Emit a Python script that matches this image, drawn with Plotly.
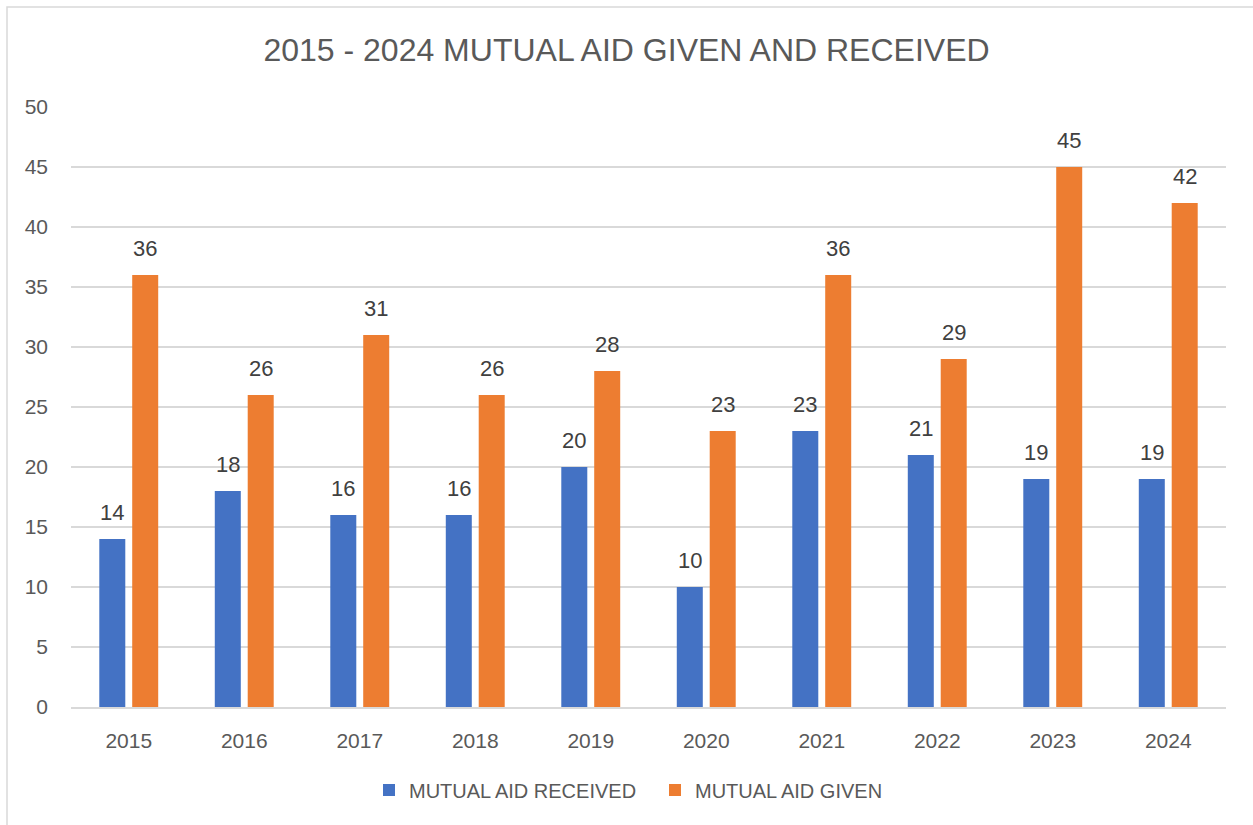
import plotly.graph_objects as go

years = ["2015", "2016", "2017", "2018", "2019", "2020", "2021", "2022", "2023", "2024"]
received = [14, 18, 16, 16, 20, 10, 23, 21, 19, 19]
given = [36, 26, 31, 26, 28, 23, 36, 29, 45, 42]

W, H = 1253, 825
L, R, T, B = 71, 1226, 107, 707
FONT = "Liberation Sans"
GREY = "#595959"
LABEL = "#404040"

fig = go.Figure()
fig.add_trace(go.Bar(
    x=years, y=received, name="MUTUAL AID RECEIVED",
    marker=dict(color="#4472C4", line=dict(width=0)),
))
fig.add_trace(go.Bar(
    x=years, y=given, name="MUTUAL AID GIVEN",
    marker=dict(color="#ED7D31", line=dict(width=0)),
))

# data labels above each bar (x given as category index)
for vals, dx in ((received, -16.5), (given, 16.5)):
    for i, v in enumerate(vals):
        fig.add_annotation(x=i, y=v, xref="x", yref="y", text=str(v), showarrow=False,
                           xanchor="center", yanchor="bottom", xshift=dx, yshift=12,
                           font=dict(family=FONT, size=22, color=LABEL))

pw, ph = R - L, B - T
fig.add_shape(type="rect", xref="paper", yref="paper",
              x0=(7 - L) / pw, x1=(W + 20 - L) / pw,
              y0=-(H + 20 - B) / ph, y1=1 + (T - 7) / ph,
              line=dict(color="#D9D9D9", width=1.5), fillcolor="rgba(0,0,0,0)", layer="below")

fig.update_layout(
    width=W, height=H,
    margin=dict(l=L, r=W - R, t=T, b=H - B, autoexpand=False),
    paper_bgcolor="white", plot_bgcolor="white",
    barmode="group", bargap=0.43, bargroupgap=0.21,
    title=dict(text="2015 - 2024 MUTUAL AID GIVEN AND RECEIVED",
               x=0.5, xanchor="center", y=1 - 50 / H, yanchor="middle",
               font=dict(family=FONT, size=32, color=GREY)),
    font=dict(family=FONT, color=GREY),
    xaxis=dict(type="category", range=[-0.5, len(years) - 0.5], showgrid=False, showline=True,
               linecolor="#D9D9D9", linewidth=1.5,
               tickfont=dict(size=21, color=GREY), ticks="", ticklabelstandoff=14),
    yaxis=dict(range=[0, 50], dtick=5, showgrid=True, gridcolor="#D9D9D9", gridwidth=1.5,
               zeroline=False, showline=False, ticks="",
               tickfont=dict(size=21, color=GREY), ticklabelstandoff=22),
    legend=dict(orientation="h", x=0.5 + 6.5 / pw, xanchor="center", y=-(790 - B) / ph,
                yanchor="middle",
                font=dict(size=20, color=GREY), itemwidth=30, traceorder="normal",
                entrywidth=241, entrywidthmode="pixels"),
    showlegend=True,
)

fig.write_html("out.html", config={"displayModeBar": False},
               post_script="document.body.style.margin='0';")
